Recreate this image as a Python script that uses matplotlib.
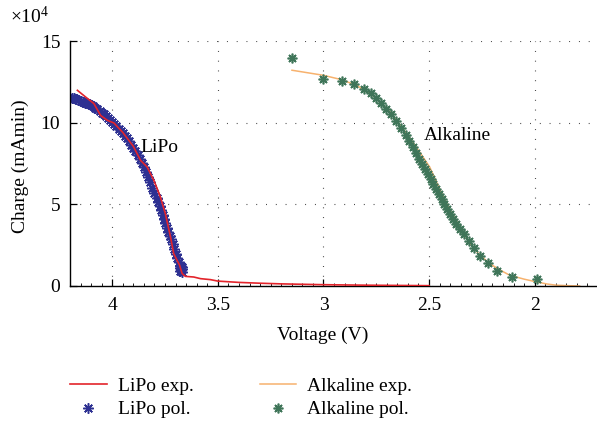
import numpy as np
import matplotlib
matplotlib.use("Agg")
import matplotlib.pyplot as plt
from matplotlib.ticker import MultipleLocator

plt.rcParams['font.family'] = ['Liberation Serif', 'DejaVu Serif']
plt.rcParams['mathtext.fontset'] = 'custom'
plt.rcParams['mathtext.rm'] = 'Liberation Serif'

# charge values are in units of 10^4 mAmin
lipo_exp_v = [4.165, 4.126, 4.087, 4.055, 4.024, 3.992, 3.95, 3.90, 3.866, 3.835,
              3.803, 3.772, 3.748, 3.724, 3.709, 3.693, 3.682, 3.669, 3.654,
              3.614, 3.582, 3.535, 3.50, 3.40, 3.30, 3.20, 3.00, 2.80, 2.50]
lipo_exp_q = [11.98, 11.57, 11.17, 10.44, 10.15, 9.98, 9.40, 8.55, 7.69, 7.29,
              6.47, 5.45, 4.40, 3.00, 1.98, 1.57, 1.30, 0.76, 0.59,
              0.55, 0.45, 0.39, 0.30, 0.22, 0.17, 0.13, 0.08, 0.05, 0.02]

lipo_pol_v = [4.19, 4.18, 4.17, 4.16, 4.15, 4.14, 4.13, 4.12, 4.11, 4.10,
              4.09, 4.08, 4.07, 4.06, 4.05, 4.04, 4.03, 4.02, 4.01, 4.00,
              3.99, 3.98, 3.97, 3.96, 3.95, 3.94, 3.93, 3.92, 3.91, 3.90,
              3.89, 3.88, 3.87, 3.86, 3.85, 3.84, 3.83, 3.82, 3.81, 3.80,
              3.79, 3.783, 3.776, 3.769, 3.762, 3.755, 3.748, 3.741, 3.734, 3.727,
              3.720, 3.713, 3.706, 3.699, 3.692, 3.686, 3.681, 3.677, 3.674, 3.671,
              3.679, 3.669, 3.676, 3.672]
lipo_pol_q = [11.52, 11.48, 11.43, 11.38, 11.33, 11.28, 11.23, 11.18, 11.12, 11.06,
              10.99, 10.91, 10.82, 10.72, 10.62, 10.51, 10.40, 10.29, 10.17, 10.05,
              9.91, 9.77, 9.63, 9.49, 9.34, 9.19, 9.04, 8.86, 8.66, 8.46,
              8.24, 8.02, 7.80, 7.56, 7.28, 6.98, 6.67, 6.35, 6.03, 5.71,
              5.40, 5.15, 4.90, 4.63, 4.36, 4.10, 3.84, 3.58, 3.33, 3.09,
              2.85, 2.58, 2.28, 1.98, 1.70, 1.46, 1.25, 1.08, 0.95, 0.85,
              0.92, 1.05, 1.20, 1.15]

alk_exp_v = [3.149, 3.0, 2.92, 2.843, 2.76, 2.685, 2.606, 2.55, 2.497, 2.45,
             2.401, 2.35, 2.307, 2.26, 2.213, 2.16, 2.118, 2.05, 1.992, 1.94,
             1.898, 1.84, 1.787]
alk_exp_q = [13.21, 12.90, 12.65, 12.29, 11.60, 10.66, 9.33, 8.30, 7.29, 5.95,
             4.64, 3.55, 2.60, 1.90, 1.37, 0.95, 0.66, 0.42, 0.25, 0.12,
             0.05, 0.02, 0.0]

alk_pol_v = [3.149, 3.0, 2.913, 2.855, 2.808, 2.775, 2.751, 2.729, 2.704, 2.682,
             2.657, 2.633, 2.611, 2.594, 2.578, 2.562, 2.547, 2.532, 2.52, 2.507,
             2.493, 2.48, 2.468, 2.455, 2.441, 2.428, 2.414, 2.401, 2.386, 2.37,
             2.354, 2.335, 2.313, 2.289, 2.259, 2.223, 2.176, 2.108, 1.99]
alk_pol_q = [13.93, 12.66, 12.55, 12.35, 12.09, 11.82, 11.54, 11.21, 10.86, 10.51,
             10.10, 9.68, 9.27, 8.86, 8.51, 8.14, 7.80, 7.49, 7.19, 6.88,
             6.58, 6.27, 5.96, 5.66, 5.35, 5.05, 4.74, 4.43, 4.13, 3.82,
             3.51, 3.21, 2.78, 2.33, 1.85, 1.39, 0.92, 0.53, 0.41]

xticks = [4, 3.5, 3, 2.5, 2]
yticks = [0, 5, 10, 15]

fs = 14
fig = plt.figure(figsize=(5.97, 4.23), dpi=100)
ax = fig.add_axes([70/597, 1 - 286/423, 528/597, 245/423])

ax.plot(lipo_exp_v, lipo_exp_q, color='#e3242b', lw=1.2, label='LiPo exp.', zorder=3)
ax.plot(lipo_pol_v, lipo_pol_q, ls='none', marker=(8, 2, 0), ms=7.5, mew=1.1,
        color='#2e3192', label='LiPo pol.', zorder=2)
ax.plot(alk_exp_v, alk_exp_q, color='#f7b26e', lw=1.1, label='Alkaline exp.', zorder=2)
ax.plot(alk_pol_v, alk_pol_q, ls='none', marker=(8, 2, 0), ms=7, mew=1.2,
        color='#3f7559', label='Alkaline pol.', zorder=3)

ax.set_xlim(4.2, 1.7)
ax.set_ylim(0, 15)
ax.set_xticks(xticks)
ax.set_xticklabels([f'{t:g}' for t in xticks])
ax.set_yticks(yticks)
ax.xaxis.set_minor_locator(MultipleLocator(0.05))
ax.tick_params(which='both', direction='in', labelsize=fs, color='black')
ax.tick_params(which='major', length=5, width=0.9, pad=8)
ax.tick_params(which='minor', length=2, width=0.6)
ax.tick_params(axis='y', pad=7)

ax.grid(True, which='major', color='#333333', lw=0.8, ls=(0, (0.8, 8)))
for s in ['top', 'right']:
    ax.spines[s].set_visible(False)
for s in ['left', 'bottom']:
    ax.spines[s].set_linewidth(1.0)

ax.set_xlabel('Voltage (V)', fontsize=fs)
ax.set_ylabel('Charge (mAmin)', fontsize=fs)
ax.xaxis.set_label_coords(0.479, -0.168)
ax.yaxis.set_label_coords(-0.077, 0.49)

ax.text(3.866, 8.5, 'LiPo', fontsize=fs, va='center', ha='left')
ax.text(2.524, 9.23, 'Alkaline', fontsize=fs, va='center', ha='left')
fig.text(10/597, 1 - 23/423, r'$\mathregular{\times10^4}$', fontsize=fs, va='baseline')

fig.legend(loc='upper left', bbox_to_anchor=(70/597, 1 - 377/423), ncol=2,
           frameon=False, fontsize=fs, handlelength=1.9, handletextpad=0.55,
           columnspacing=3.4, labelspacing=0.32, borderpad=0, borderaxespad=0,
           numpoints=1)

fig.savefig('out.png', dpi=100)
